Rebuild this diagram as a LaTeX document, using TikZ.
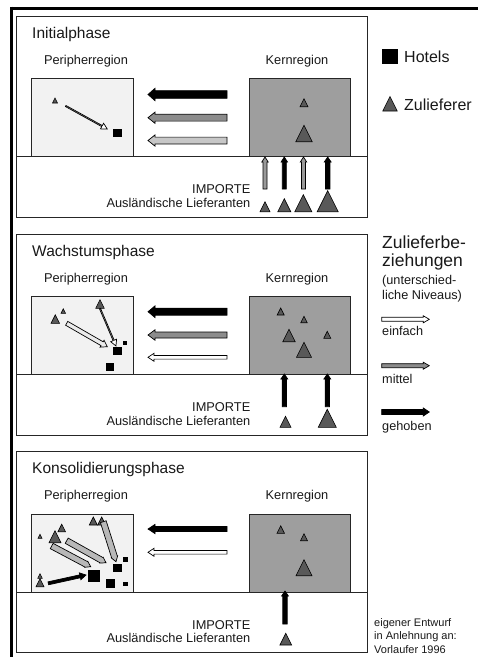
\documentclass[tikz,border=0pt]{standalone}
\usepackage{fontspec}
\setmainfont{Liberation Sans}
\tikzset{
  frame/.style={draw=black!85, line width=0.8pt},
  periph/.style={draw=black!85, line width=0.8pt, fill=black!5},
  kern/.style={draw=black!85, line width=0.8pt, fill=black!38},
  tribox/.style={draw=black, line width=0.6pt, fill=black!65, line join=miter},
  hotel/.style={fill=black},
  arrowline/.style={draw=black, line width=0.7pt, line join=miter},
  txt/.style={inner sep=0pt, text=black!90},
  title/.style={txt, font=\fontsize{15.5}{18}\selectfont, anchor=base west},
  region/.style={txt, font=\fontsize{12.8}{15}\selectfont, anchor=base},
  imp/.style={txt, font=\fontsize{12.8}{13.5}\selectfont, anchor=base east, align=right},
  leg/.style={txt, anchor=base west, align=left},
}
% block arrow: fill, x1, y1 (tail), x2, y2 (tip), half shaft, half head, head length
\newcommand\barrow[8]{%
  \pgfmathsetmacro\bang{atan2(-(#5-#3),#4-#2)}%
  \pgfmathsetmacro\blen{veclen(#4-#2,#5-#3)}%
  \begin{scope}[shift={(#2,#3)},rotate=\bang]
    \draw[arrowline,fill=#1] (0,#6) -- ({\blen-#8},#6) -- ({\blen-#8},#7) -- (\blen,0)
      -- ({\blen-#8},-#7) -- ({\blen-#8},-#6) -- (0,-#6) -- cycle;
  \end{scope}}
\newcommand\tri[3]{\draw[tribox] ({#1-0.5*#3},#2) -- (#1,{#2-#3}) -- ({#1+0.5*#3},#2) -- cycle;}
\newcommand\hsq[4]{\fill[hotel] (#1,#2) rectangle (#3,#4);}
\newcommand\panel[3]{%
  \draw[frame] (16,#1) rectangle (367,{#1+201});
  \draw[periph] (31.7,{#1+62.5}) rectangle (133.3,{#1+140.5});
  \draw[kern] (249.3,{#1+62.5}) rectangle (350.7,{#1+140.5});
  \draw[frame] (16,{#1+140.5}) -- (367,{#1+140.5});
  \node[title] (#3title) at (32,{#1+22.3}) {#2};
  \node[region] (#3peri) at (86,{#1+48}) {Peripherregion};
  \node[region] (#3kern) at (297,{#1+48}) {Kernregion};
  \node[imp] (#3imp) at (250.5,{#1+191.3}) {IMPORTE\\Ausländische Lieferanten};
}
\begin{document}
\begin{tikzpicture}[x=1pt,y=-1pt]
\useasboundingbox (0,0) rectangle (478,657);
\fill[white] (0,0) rectangle (478,657);
% page border
\draw[line width=3pt] (10,8) -- (478,8);
\draw[line width=3.3pt] (11.7,6.5) -- (11.7,657);

% ---------- panel 1 ----------
\panel{16}{Initialphase}{a}
\barrow{black}{227}{94.5}{148}{94.5}{3.8}{6.2}{7}
\barrow{black!45}{227}{117.7}{148}{117.7}{3.4}{5.6}{7}
\barrow{black!22}{227}{140.5}{148}{140.5}{3.4}{5.6}{7}
\tri{55}{103}{5}
\barrow{white}{65.7}{106}{107.3}{129}{0.6}{3.2}{6}
\hsq{113.3}{129}{121.7}{137.3}
\tri{304}{106.7}{8}
\tri{304}{141.7}{16.5}
\barrow{black!40}{265}{189}{265}{157}{2}{3.2}{5}
\barrow{black}{284.3}{189}{284.3}{157}{2}{3.2}{5}
\barrow{black!40}{303.5}{189}{303.5}{157}{2}{3.2}{5}
\barrow{black}{327.7}{189}{327.7}{157}{2.2}{3.4}{5}
\tri{265}{211.7}{10}
\tri{284.3}{211.7}{13}
\tri{303.3}{211.7}{17}
\tri{327.7}{211.7}{21}

% ---------- panel 2 ----------
\panel{234}{Wachstumsphase}{b}
\barrow{black}{227}{311.7}{148}{311.7}{3.5}{5.8}{7}
\barrow{black!45}{227}{335}{148}{335}{3}{5.2}{7}
\barrow{white}{227}{357.3}{148}{357.3}{1.8}{4}{6}
\tri{55.3}{323.3}{8.5}
\tri{63.3}{313.3}{4.5}
\tri{100}{308.3}{8.5}
\barrow{black!8}{66.7}{323.3}{107.3}{346.7}{2.2}{4}{6}
\barrow{white}{100}{308.5}{116}{346}{0.6}{3.2}{6}
\hsq{113.3}{346.7}{122}{355.3}
\hsq{123.3}{340.7}{127.3}{345}
\hsq{106}{362.7}{114}{370.7}
\tri{280.7}{315}{7}
\tri{304}{322.7}{6.5}
\tri{327.3}{338.3}{7}
\tri{289}{341.7}{12.5}
\tri{304}{357.3}{15}
\barrow{black}{284.3}{406.7}{284.3}{374}{2.2}{3.4}{5}
\barrow{black}{327.3}{406.7}{327.3}{374}{2.2}{3.4}{5}
\tri{285.5}{427.3}{11}
\tri{327.3}{427.3}{18}

% ---------- panel 3 ----------
\panel{451.5}{Konsolidierungsphase}{c}
\barrow{black}{227}{529}{148}{529}{2.5}{4.6}{7}
\barrow{white}{227}{552.3}{148}{552.3}{1.8}{4}{6}
\tri{40}{538.3}{4}
\tri{61.7}{531.7}{7.5}
\tri{55}{542.7}{12}
\tri{93.3}{525}{8}
\tri{101.7}{525}{8}
\tri{40}{578.3}{4.5}
\tri{40}{586.7}{8}
\barrow{black!28}{51.7}{546}{90.7}{566.7}{3}{3.3}{5}
\barrow{black!28}{66.7}{540.7}{106}{562.7}{3}{3.3}{5}
\barrow{black!28}{103.3}{521.7}{116}{561.7}{3}{3.3}{5}
\barrow{black}{48.3}{583.3}{86}{575}{1.5}{3.5}{6}
\hsq{88.3}{570}{100}{581.7}
\hsq{106}{579.3}{114.5}{587.5}
\hsq{113.3}{564}{121.7}{572.3}
\hsq{123.3}{557.3}{127.7}{561.7}
\hsq{123.3}{581.7}{127.7}{585.7}
\tri{280.7}{533.3}{7.5}
\tri{304}{540.7}{7}
\tri{304}{575.7}{16}
\barrow{black}{285}{624}{285}{591}{2.2}{3.4}{5}
\tri{285.8}{645}{11.7}

% ---------- legend ----------
\hsq{382}{49}{397.5}{63.5}
\node[leg, font=\fontsize{16}{18}\selectfont] (lhotel) at (404,62.3) {Hotels};
\tri{390}{111}{14.5}
\node[leg, font=\fontsize{16}{18}\selectfont] (lzul) at (404,110) {Zulieferer};
\node[leg, font=\fontsize{17.5}{18.4}\selectfont] (lzb) at (382,266.7) {Zulieferbe-\\ziehungen};
\node[leg, font=\fontsize{12.7}{15.3}\selectfont] (lniv) at (382,299.3) {(unterschied-\\liche Niveaus)};
\barrow{white}{381.7}{319.3}{429.3}{319.3}{2}{3.5}{6}
\node[leg, font=\fontsize{12.7}{15}\selectfont] (leinf) at (382,335.7) {einfach};
\barrow{black!45}{381.7}{365.7}{429.3}{365.7}{2}{3.5}{6}
\node[leg, font=\fontsize{12.7}{15}\selectfont] (lmit) at (382,383.3) {mittel};
\barrow{black}{381.7}{412}{429.3}{412}{2.5}{4}{6}
\node[leg, font=\fontsize{12.7}{15}\selectfont] (lgeh) at (382,430) {gehoben};
\node[leg, font=\fontsize{11}{13.5}\selectfont] (src) at (374,653.3) {eigener Entwurf\\in Anlehnung an:\\Vorlaufer 1996};
\end{tikzpicture}
\end{document}
